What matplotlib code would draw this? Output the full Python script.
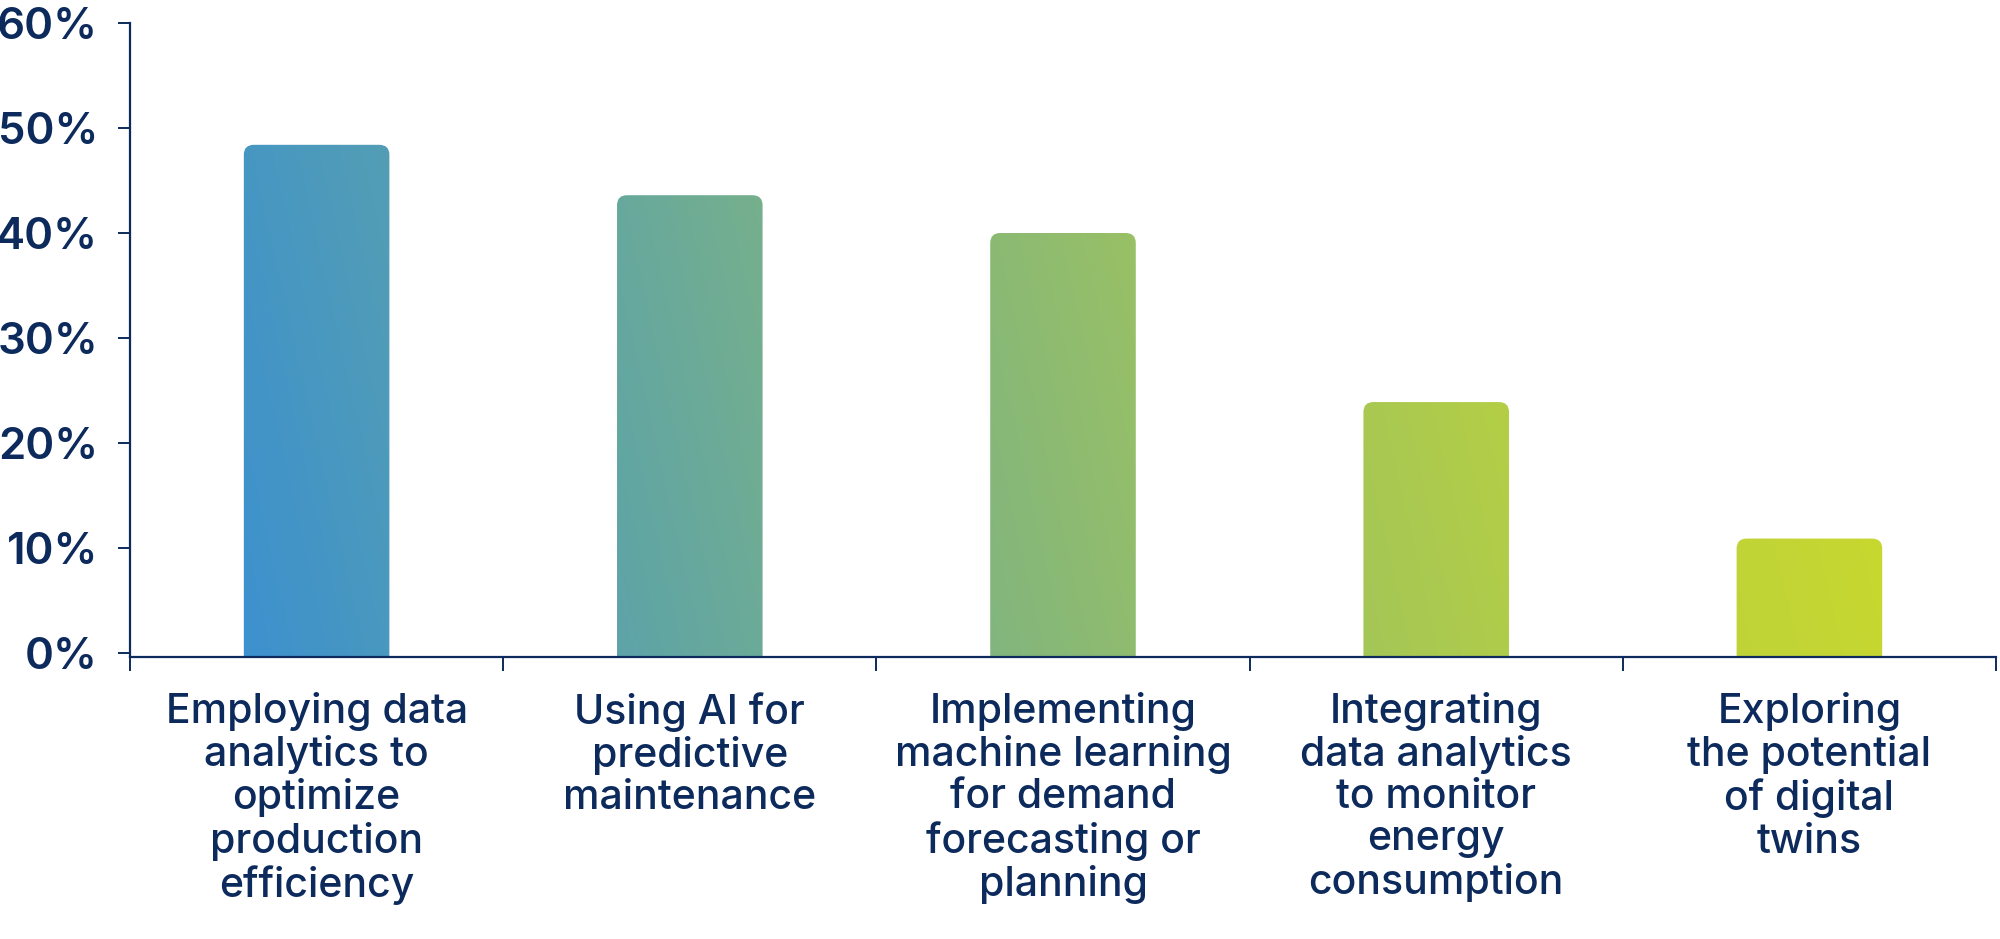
import numpy as np
import matplotlib
matplotlib.use("Agg")
import matplotlib.pyplot as plt
from matplotlib.colors import LinearSegmentedColormap
from matplotlib.patches import FancyBboxPatch

plt.rcParams['font.family'] = ['Inter', 'DejaVu Sans']

categories = [
    "Employing data\nanalytics to\noptimize\nproduction\nefficiency",
    "Using AI for\npredictive\nmaintenance",
    "Implementing\nmachine learning\nfor demand\nforecasting or\nplanning",
    "Integrating\ndata analytics\nto monitor\nenergy\nconsumption",
    "Exploring\nthe potential\nof digital\ntwins",
]
values = [48.4, 43.6, 40.0, 23.9, 10.9]
yticks = [0, 10, 20, 30, 40, 50, 60]
ytick_labels = ["0%", "10%", "20%", "30%", "40%", "50%", "60%"]

navy = "#0d2a5c"
grad_colors = ["#3d91ce", "#5ca3aa", "#7fb482", "#a0c45c", "#bcd23c", "#ccda2a"]

fig = plt.figure(figsize=(20, 9.39), dpi=100)
ax = fig.add_axes([0.065, 0.3003, 0.933, 0.6752])

x = np.arange(len(values))
bars = ax.bar(x, values, width=0.39, color="none", edgecolor="none")

ymin = -0.38
ax.set_xlim(-0.5, len(values) - 0.5)
ax.set_ylim(ymin, 60)

# gradient across all bars, mostly left->right with a slight upward tilt
cmap = LinearSegmentedColormap.from_list("grad", grad_colors)
x0 = bars[0].get_x()
x1 = bars[-1].get_x() + bars[-1].get_width()
gx = np.linspace(-0.5, len(values) - 0.5, 600)
gy = np.linspace(ymin, 60, 300)
GX, GY = np.meshgrid(gx, gy)
T = np.clip(0.92 * (GX - x0) / (x1 - x0) + 0.08 * GY / 60, 0, 1)

# aspect so that corner radius is round on screen
p0 = ax.transData.transform((0, 0))
p1 = ax.transData.transform((1, 1))
aspect = (p1[0] - p0[0]) / (p1[1] - p0[1])
r = 10 / (p1[0] - p0[0])

for b in bars:
    bx, bw, bh = b.get_x(), b.get_width(), b.get_height()
    patch = FancyBboxPatch((bx, ymin - 3), bw, bh - ymin + 3,
                           boxstyle="round,pad=0,rounding_size=%f" % r,
                           mutation_aspect=aspect,
                           facecolor="none", edgecolor="none")
    ax.add_patch(patch)
    im = ax.imshow(T, cmap=cmap, vmin=0, vmax=1, origin="lower", aspect="auto",
                   extent=(-0.5, len(values) - 0.5, ymin, 60),
                   interpolation="bilinear", zorder=2)
    im.set_clip_path(patch)

ax.set_xlim(-0.5, len(values) - 0.5)
ax.set_ylim(ymin, 60)

for s in ["top", "right"]:
    ax.spines[s].set_visible(False)
for s in ["left", "bottom"]:
    ax.spines[s].set_color(navy)
    ax.spines[s].set_linewidth(1.6)

ax.set_yticks(yticks)
ax.set_yticklabels(ytick_labels)
ax.tick_params(axis="y", length=9, width=1.4, color=navy, pad=14,
               labelsize=31.5, labelcolor=navy)
for t in ax.get_yticklabels():
    t.set_fontweight("semibold")

ax.set_xticks(np.arange(len(values) + 1) - 0.5)
ax.set_xticklabels([])
ax.tick_params(axis="x", which="major", length=10, width=1.4, color=navy,
               direction="out")
ax.set_xticks(x, minor=True)
ax.set_xticklabels(categories, minor=True, fontsize=29.5, fontweight="medium",
                   color=navy, linespacing=1.14)
ax.tick_params(axis="x", which="minor", length=0, pad=25)

fig.savefig("out.png", dpi=100)
